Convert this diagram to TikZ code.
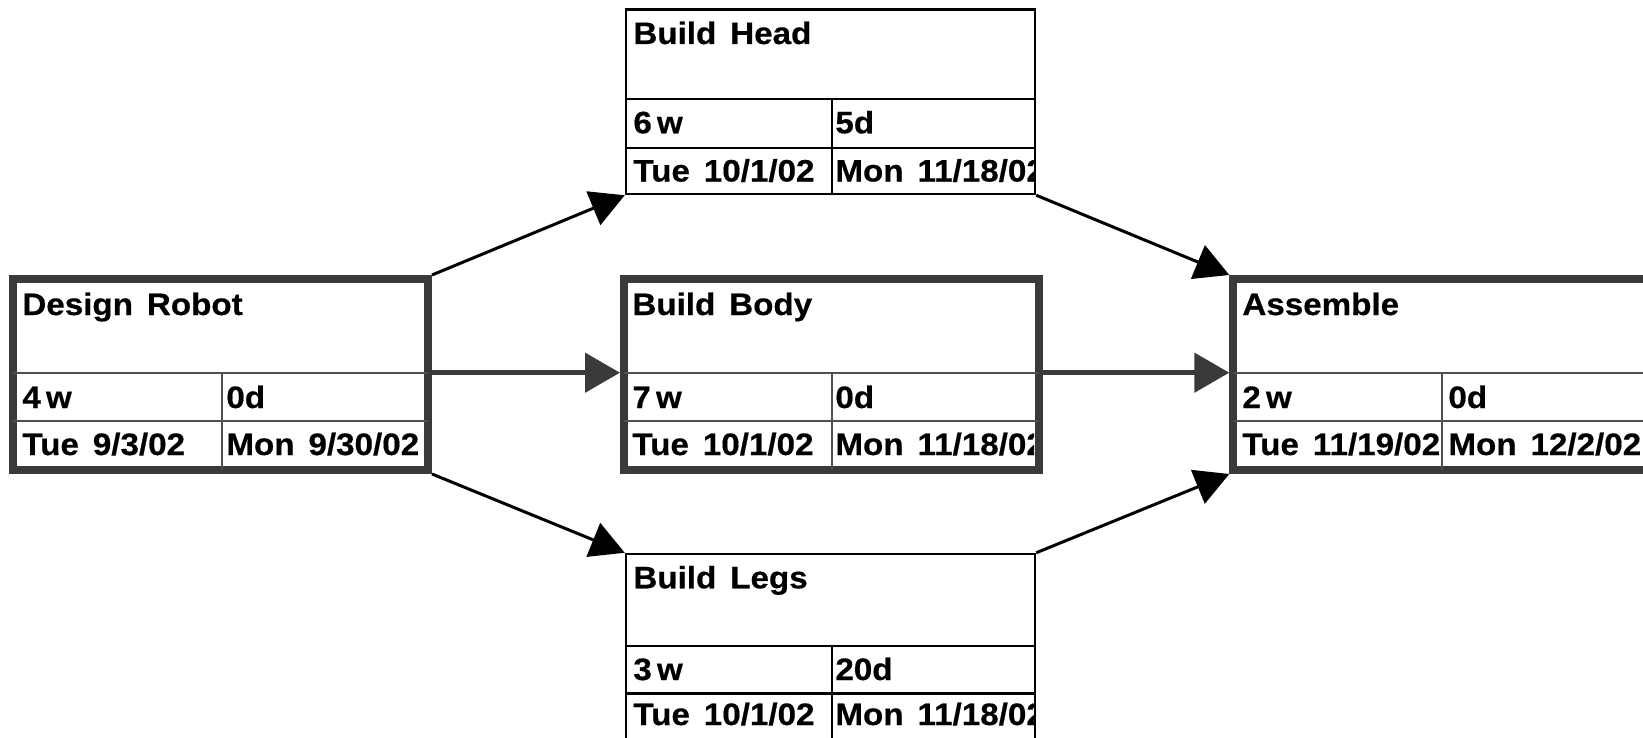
\documentclass[tikz,border=0pt]{standalone}
\usepackage{fontspec}
\setmainfont{Liberation Sans}[FakeStretch=1.07, BoldFeatures={FakeBold=0.5}]
\usetikzlibrary{arrows.meta}
\definecolor{crit}{HTML}{3A3A3A}
\definecolor{critdiv}{HTML}{505050}

\begin{document}
\begin{tikzpicture}[x=0.5pt, y=-0.5pt,
  taskbox/.style={draw=black, line width=1.25pt, fill=white, inner sep=0pt},
  critbox/.style={draw=crit, line width=4pt, fill=white, inner sep=0pt},
  rowline/.style={draw=black, line width=1.2pt},
  critrow/.style={draw=critdiv, line width=1pt},
  label/.style={anchor=base west, inner sep=0pt, text=black,
    font={\fontsize{15.5}{18}\selectfont\bfseries\spaceskip=0.45em plus 0.1em\relax}},
  link/.style={draw=black, line width=1.5pt,
    -{Triangle[length=17pt, width=18pt]}},
  critlink/.style={draw=crit, line width=2.5pt,
    -{Triangle[length=17.5pt, width=19.5pt]}},
]
\clip (0,0) rectangle (1643,738);

% split line of the critical path (duration row)
\coordinate (split) at (0,372.7);

% ---------- Design Robot ----------
\node[critbox, minimum width=207.5pt, minimum height=95.5pt] (dr) at (220.5,374.5) {};
\draw[critrow] (13,372.7) -- (428,372.7) (13,421) -- (428,421) (221.7,372.7) -- (221.7,470);
\node[label] (drname) at (22,315) {Design Robot};
\node[label] (drdur) at (22,408) {4\,w};
\node[label] (drslack) at (226,408) {0d};
\node[label] (drstart) at (22,455) {Tue 9/3/02};
\node[label] (drfinish) at (226,455) {Mon 9/30/02};

% ---------- Build Head ----------
\node[taskbox, minimum width=204.5pt, minimum height=92.35pt] (bh) at (830.5,101.65) {};
\draw[rowline] (626,99.3) -- (1035,99.3) (626,147.7) -- (1035,147.7) (831.7,99.3) -- (831.7,194);
\node[label] (bhname) at (633,44) {Build Head};
\node[label] (bhdur) at (633,133.3) {6\,w};
\node[label] (bhslack) at (835,133.3) {5d};
\node[label] (bhstart) at (633,181.5) {Tue 10/1/02};
\begin{scope}
  \clip (832,150) rectangle (1034,193);
  \node[label] (bhfinish) at (835,181.5) {Mon 11/18/02};
\end{scope}

% ---------- Build Body ----------
\node[critbox, minimum width=207.25pt, minimum height=95.5pt] (bb) at (831.25,374.5) {};
\draw[critrow] (624,372.7) -- (1038.5,372.7) (624,421) -- (1038.5,421) (832,372.7) -- (832,470);
\node[label] (bbname) at (632,315) {Build Body};
\node[label] (bbdur) at (632,408) {7\,w};
\node[label] (bbslack) at (835,408) {0d};
\node[label] (bbstart) at (632,455) {Tue 10/1/02};
\begin{scope}
  \clip (833,423) rectangle (1034,466);
  \node[label] (bbfinish) at (835,455) {Mon 11/18/02};
\end{scope}

% ---------- Build Legs ----------
\node[taskbox, minimum width=204.5pt, minimum height=93pt] (bl) at (830.5,647) {};
\draw[rowline] (626,645.7) -- (1035,645.7) (626,693.3) -- (1035,693.3) (831.7,645.7) -- (831.7,740);
\node[label] (blname) at (633,588.3) {Build Legs};
\node[label] (bldur) at (633,680) {3\,w};
\node[label] (blslack) at (835,680) {20d};
\node[label] (blstart) at (633,725) {Tue 10/1/02};
\begin{scope}
  \clip (832,695) rectangle (1034,738);
  \node[label] (blfinish) at (835,725) {Mon 11/18/02};
\end{scope}

% ---------- Assemble ----------
\node[critbox, minimum width=207.5pt, minimum height=95.5pt] (as) at (1440.8,374.5) {};
\draw[critrow] (1233.3,372.7) -- (1660,372.7) (1233.3,421) -- (1660,421) (1441.7,372.7) -- (1441.7,470);
\node[label] (asname) at (1242,315) {Assemble};
\node[label] (asdur) at (1242,408) {2\,w};
\node[label] (asslack) at (1448,408) {0d};
\begin{scope}
  \clip (1236,423) rectangle (1440.7,466);
  \node[label] (asstart) at (1242,455) {Tue 11/19/02};
\end{scope}
\node[label] (asfinish) at (1448,455) {Mon 12/2/02};

% ---------- dependencies ----------
\draw[link] (dr.north east) -- (bh.south west);
\draw[link] (dr.south east) -- (bl.north west);
\draw[link] (bh.south east) -- (as.north west);
\draw[link] (bl.north east) -- (as.south west);
\draw[critlink] (dr.east |- split) -- (bb.west |- split);
\draw[critlink] (bb.east |- split) -- (as.west |- split);
\end{tikzpicture}
\end{document}
